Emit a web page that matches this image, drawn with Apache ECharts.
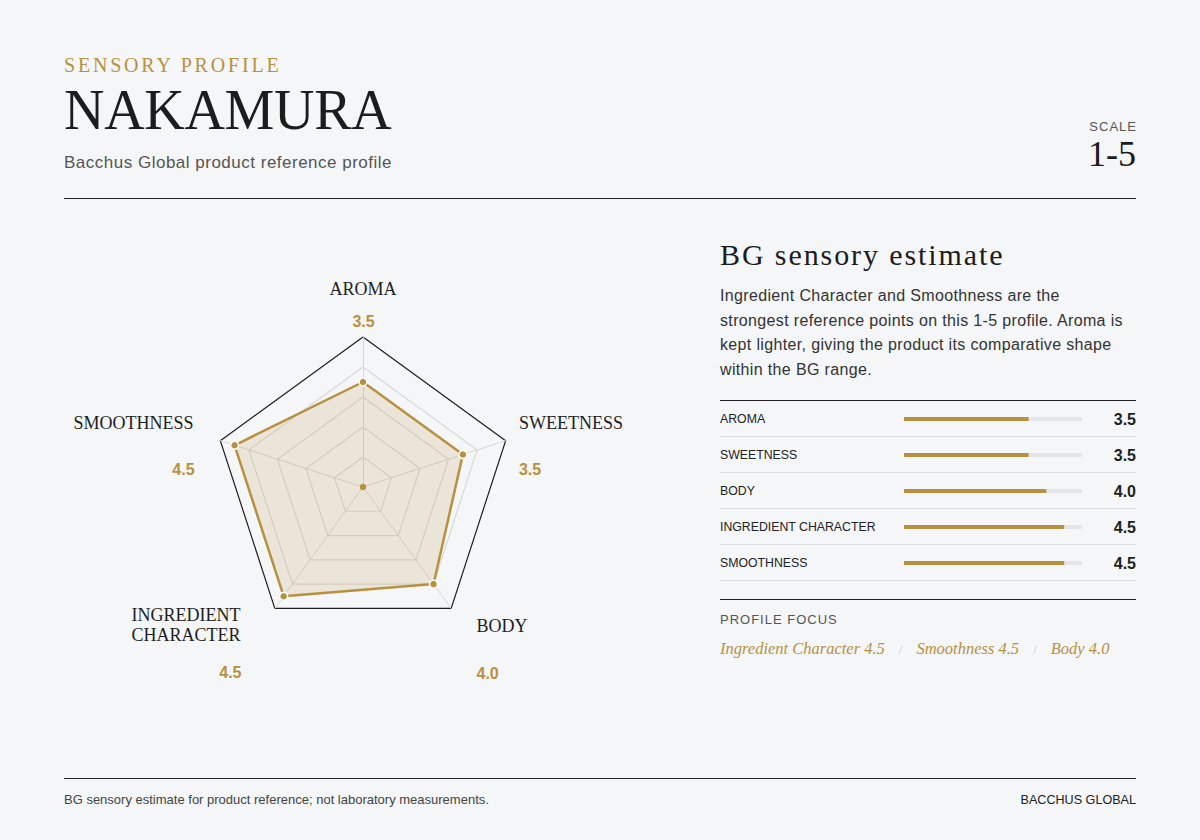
<!DOCTYPE html>
<html><head><meta charset="utf-8">
<script src="https://cdn.jsdelivr.net/npm/echarts@6/dist/echarts.min.js"></script>
<style>
html,body{margin:0;padding:0;background:#f4f6f8;}
#page{position:relative;width:1200px;height:840px;overflow:hidden;font-family:"Liberation Sans",Arial,sans-serif;background:#f4f6f8;}
.t{position:absolute;white-space:nowrap;margin:0;}
.serif{font-family:"Liberation Serif","Times New Roman",serif;}
.rule{position:absolute;height:1px;background:#222;}
.sep{position:absolute;height:1px;background:#dedfe1;left:720px;width:416px;}
#chart{position:absolute;left:0;top:0;width:1200px;height:840px;z-index:1;}
.slash{color:#c9c9c9;font-style:normal;margin:0 14px;font-size:13px;}
</style></head>
<body><div id="page">
<div class="t serif" style="left:64px;top:53px;font-size:20px;line-height:24px;letter-spacing:2.8px;color:#b8913f;">SENSORY PROFILE</div>
<div class="t serif" style="left:64px;top:80px;font-size:56px;line-height:60px;letter-spacing:-0.3px;color:#1c1c1c;">NAKAMURA</div>
<div class="t" style="left:64px;top:153px;font-size:17px;line-height:20px;letter-spacing:0.5px;color:#555;">Bacchus Global product reference profile</div>
<div class="t" style="right:64px;top:119px;font-size:13px;line-height:16px;letter-spacing:1px;color:#555;margin-right:-1px;">SCALE</div>
<div class="t serif" style="right:64px;top:134px;font-size:36px;line-height:40px;color:#1c1c1c;">1-5</div>
<div class="rule" style="left:64px;top:198px;width:1072px;"></div>

<div class="t serif" style="left:720px;top:237px;font-size:30px;line-height:36px;letter-spacing:1.9px;color:#1c1c1c;">BG sensory estimate</div>
<div class="t" style="left:720px;top:284px;font-size:16px;line-height:24.5px;letter-spacing:0.35px;color:#333;">Ingredient Character and Smoothness are the<br>strongest reference points on this 1-5 profile. Aroma is<br>kept lighter, giving the product its comparative shape<br>within the BG range.</div>
<div class="rule" style="left:720px;top:400px;width:416px;"></div>
<div class="sep" style="top:436px;"></div>
<div class="sep" style="top:472px;"></div>
<div class="sep" style="top:508px;"></div>
<div class="sep" style="top:544px;"></div>
<div class="sep" style="top:580px;"></div>
<div class="rule" style="left:720px;top:599px;width:416px;"></div>
<div class="t" style="left:720px;top:612px;font-size:13px;line-height:16px;letter-spacing:1px;color:#555;">PROFILE FOCUS</div>
<div id="focus" class="t serif" style="left:720px;top:638px;font-size:16.5px;line-height:22px;font-style:italic;color:#b8913f;"></div>

<div class="rule" style="left:64px;top:778px;width:1072px;"></div>
<div class="t" style="left:64px;top:792px;font-size:13px;line-height:16px;color:#444;">BG sensory estimate for product reference; not laboratory measurements.</div>
<div class="t" style="right:64px;top:792px;font-size:12.6px;line-height:16px;color:#222;">BACCHUS GLOBAL</div>
<div id="chart"></div>
</div>
<script>
// ---- data ----
const categories = ['Aroma', 'Sweetness', 'Body', 'Ingredient Character', 'Smoothness'];
const scores = [3.5, 3.5, 4.0, 4.5, 4.5];
const scaleMin = 0;
const scaleMax = 5;
const centerValues = [0, 0, 0, 0, 0];
// radar goes counter-clockwise: top, upper-left, lower-left, lower-right, upper-right
const radarOrder = [0, 4, 3, 2, 1];

// ---- styling / layout ----
const GOLD = '#b8913f';
// per category: top spacer, middle spacer, bottom spacer, padding left, padding right, name line height
const labelLayout = [
  {t: 0, m: 14, b: 3, pl: 0, pr: 0, lh: 18},
  {t: 14, m: 29, b: 0, pl: 9.5, pr: 0, lh: 18},
  {t: 76, m: 29, b: 0, pl: 23, pr: 0, lh: 18},
  {t: 64.3, m: 18.5, b: 0, pl: 0, pr: 32, lh: 20},
  {t: 14, m: 29, b: 0, pl: 0, pr: 23, lh: 18}
];

const rich = {};
labelLayout.forEach(function (L, i) {
  rich['n' + i] = {fontFamily: '"Liberation Serif", serif', fontSize: 18, color: '#1e1e1e', lineHeight: L.lh, padding: [0, L.pr, 0, L.pl]};
  rich['v' + i] = {fontFamily: '"Liberation Sans", Arial, sans-serif', fontSize: 16, fontWeight: 'bold', color: GOLD, lineHeight: 18, padding: [0, L.pr - 1, 0, L.pl]};
  rich['t' + i] = {fontSize: 1, lineHeight: L.t};
  rich['m' + i] = {fontSize: 1, lineHeight: L.m};
  rich['b' + i] = {fontSize: 1, lineHeight: L.b};
});

function nameFormatter(name) {
  const i = categories.indexOf(name);
  const L = labelLayout[i];
  const words = name.toUpperCase();
  const nameLines = name.indexOf(' ') > 0 && name.length > 12 ? words.split(' ') : [words];
  let s = '';
  if (L.t > 0) s += '{t' + i + '| }\n';
  s += nameLines.map(function (w) { return '{n' + i + '|' + w + '}'; }).join('\n');
  s += '\n{m' + i + '| }\n{v' + i + '|' + scores[i].toFixed(1) + '}';
  if (L.b > 0) s += '\n{b' + i + '| }';
  return s;
}

// focus line: top three scores
const focus = categories.map(function (c, i) { return {c: c, v: scores[i], i: i}; })
  .sort(function (a, b) { return b.v - a.v || a.i - b.i; }).slice(0, 3);
document.getElementById('focus').innerHTML = focus.map(function (f) { return f.c + ' ' + f.v.toFixed(1); }).join('<span class="slash">/</span>');

const chart = echarts.init(document.getElementById('chart'), null, {renderer: 'svg'});
chart.setOption({
  backgroundColor: 'transparent',
  animation: false,
  radar: {
    center: [363, 487],
    radius: 150,
    startAngle: 90,
    splitNumber: 5,
    axisNameGap: 4,
    nameGap: 4,
    indicator: radarOrder.map(function (i) { return {name: categories[i], min: scaleMin, max: scaleMax}; }),
    axisName: {formatter: nameFormatter, rich: rich},
    splitLine: {lineStyle: {color: ['#d9d9d9', '#d9d9d9', '#d9d9d9', '#d9d9d9', '#d9d9d9', '#1e1e1e'], width: 1.2}},
    splitArea: {show: false},
    axisLine: {lineStyle: {color: '#d6d6d6', width: 1}},
    axisTick: {show: false},
    axisLabel: {show: false}
  },
  grid: {left: 904, top: 401, width: 178, height: 180},
  xAxis: {type: 'value', min: scaleMin, max: scaleMax, show: false},
  yAxis: [
    {type: 'category', inverse: true, data: categories.map(function (c) { return c.toUpperCase(); }),
      axisLine: {show: false}, axisTick: {show: false}, splitLine: {show: false},
      axisLabel: {align: 'left', margin: 184, color: '#222', fontSize: 12.3, fontFamily: '"Liberation Sans", Arial, sans-serif'}},
    {type: 'category', inverse: true, position: 'right', data: scores.map(function (v) { return v.toFixed(1); }),
      axisLine: {show: false}, axisTick: {show: false}, splitLine: {show: false},
      axisLabel: {align: 'right', margin: 54, color: '#1e1e1e', fontSize: 16, fontWeight: 'bold', fontFamily: '"Liberation Sans", Arial, sans-serif'}}
  ],
  series: [
    {type: 'radar', silent: true, z: 2, data: [
      {value: radarOrder.map(function (i) { return scores[i]; }), symbol: 'circle', symbolSize: 8,
        itemStyle: {color: GOLD, borderColor: '#ffffff', borderWidth: 1.5},
        lineStyle: {color: GOLD, width: 2.5},
        areaStyle: {color: 'rgba(188,148,66,0.24)'}},
      {value: centerValues, symbol: 'circle', symbolSize: 6,
        itemStyle: {color: GOLD, borderWidth: 0},
        lineStyle: {width: 0, opacity: 0}}
    ]},
    {type: 'bar', xAxisIndex: 0, yAxisIndex: 0, silent: true, data: categories.map(function () { return scaleMax; }),
      barWidth: 4, barGap: '-100%', itemStyle: {color: '#e4e5e7'}},
    {type: 'bar', xAxisIndex: 0, yAxisIndex: 0, silent: true, data: scores,
      barWidth: 4, barGap: '-100%', itemStyle: {color: GOLD}}
  ]
});
</script>
</body></html>
